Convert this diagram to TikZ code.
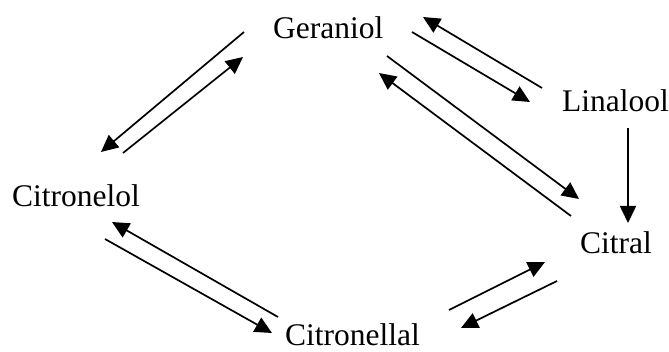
\documentclass[tikz,border=0pt]{standalone}
\usepackage{fontspec}
\setmainfont{Liberation Serif}
\usetikzlibrary{arrows.meta}
\begin{document}
\begin{tikzpicture}[x=1pt,y=-1pt,
  lbl/.style={anchor=base west,inner sep=0pt,font=\fontsize{31.5}{36}\selectfont},
  rx/.style={line width=1.7pt,-{Triangle[length=17pt,width=16pt]}}]
\useasboundingbox (0,0) rectangle (669,352);
\node[lbl] (ger) at (273,39) {Geraniol};
\node[lbl] (lin) at (562,112) {Linalool};
\node[lbl] (cit) at (580,254) {Citral};
\node[lbl] (cal) at (285,346) {Citronellal};
\node[lbl] (col) at (12,207) {Citronelol};
% Geraniol <-> Citronelol
\coordinate (a1) at (244,32); \coordinate (a2) at (101,152);
\coordinate (b1) at (123,153); \coordinate (b2) at (243,57);
\draw[rx] (a1) -- (a2);
\draw[rx] (b1) -- (b2);
% Geraniol <-> Linalool
\coordinate (c1) at (412,32); \coordinate (c2) at (530,102);
\coordinate (d1) at (542,88); \coordinate (d2) at (423,17);
\draw[rx] (c1) -- (c2);
\draw[rx] (d1) -- (d2);
% Geraniol <-> Citral
\coordinate (e1) at (387,56); \coordinate (e2) at (579,199);
\coordinate (f1) at (571,216); \coordinate (f2) at (379,73);
\draw[rx] (e1) -- (e2);
\draw[rx] (f1) -- (f2);
% Linalool -> Citral
\coordinate (g1) at (628,128); \coordinate (g2) at (628,223);
\draw[rx] (g1) -- (g2);
% Citronellal <-> Citronelol
\coordinate (h1) at (278,317); \coordinate (h2) at (112,222);
\coordinate (i1) at (105,239); \coordinate (i2) at (272,333);
\draw[rx] (h1) -- (h2);
\draw[rx] (i1) -- (i2);
% Citronellal <-> Citral
\coordinate (j1) at (449,310); \coordinate (j2) at (545,262);
\coordinate (k1) at (557,281); \coordinate (k2) at (461,328);
\draw[rx] (j1) -- (j2);
\draw[rx] (k1) -- (k2);
\end{tikzpicture}
\end{document}
